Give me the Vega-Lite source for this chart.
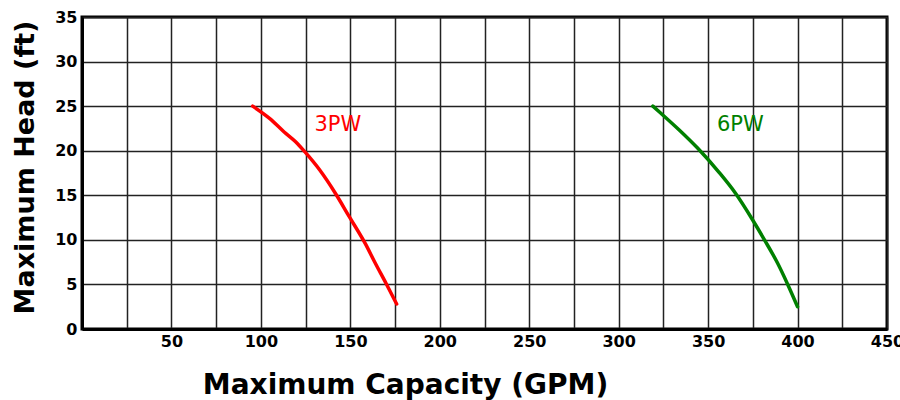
{
  "$schema": "https://vega.github.io/schema/vega-lite/v6.json",
  "autosize": "none",
  "padding": {"left": 82, "top": 17, "right": 13, "bottom": 71},
  "width": 805,
  "height": 312,
  "background": "white",
  "config": {
    "view": {"stroke": "black", "strokeWidth": 3},
    "font": "DejaVu Sans"
  },
  "datasets": {
    "curves": [
      {"model": "3PW", "gpm": 95.4, "head": 25.0},
      {"model": "3PW", "gpm": 105, "head": 23.6},
      {"model": "3PW", "gpm": 113, "head": 22.1},
      {"model": "3PW", "gpm": 119.4, "head": 21.0},
      {"model": "3PW", "gpm": 124, "head": 20.0},
      {"model": "3PW", "gpm": 133, "head": 17.8},
      {"model": "3PW", "gpm": 141.7, "head": 15.2},
      {"model": "3PW", "gpm": 149.4, "head": 12.6},
      {"model": "3PW", "gpm": 158.3, "head": 9.6},
      {"model": "3PW", "gpm": 163.9, "head": 7.4},
      {"model": "3PW", "gpm": 170, "head": 5.1},
      {"model": "3PW", "gpm": 175.9, "head": 2.8},
      {"model": "6PW", "gpm": 319.1, "head": 25.0},
      {"model": "6PW", "gpm": 323.6, "head": 24.2},
      {"model": "6PW", "gpm": 334, "head": 22.3},
      {"model": "6PW", "gpm": 344.1, "head": 20.3},
      {"model": "6PW", "gpm": 356, "head": 17.6},
      {"model": "6PW", "gpm": 365.4, "head": 15.2},
      {"model": "6PW", "gpm": 375, "head": 12.2},
      {"model": "6PW", "gpm": 381.5, "head": 10.0},
      {"model": "6PW", "gpm": 388.8, "head": 7.4},
      {"model": "6PW", "gpm": 394.5, "head": 5.0},
      {"model": "6PW", "gpm": 400, "head": 2.5}
    ],
    "labels": [
      {"model": "3PW", "gpm": 143, "head": 22.9},
      {"model": "6PW", "gpm": 368, "head": 22.9}
    ]
  },
  "layer": [
    {
      "data": {"name": "curves"},
      "mark": {"type": "line", "strokeWidth": 3.5, "strokeCap": "round", "interpolate": "monotone"},
      "encoding": {
        "x": {
          "field": "gpm", "type": "quantitative",
          "scale": {"domain": [0, 450], "nice": false},
          "axis": {
            "values": [25, 50, 75, 100, 125, 150, 175, 200, 225, 250, 275, 300, 325, 350, 375, 400, 425, 450],
            "labelExpr": "datum.value % 50 == 0 ? datum.label : ''",
            "grid": true, "gridColor": "#222", "gridWidth": 1.5, "gridOpacity": 1,
            "ticks": false, "domain": true, "domainColor": "black", "domainWidth": 3,
            "labelFont": "DejaVu Sans", "labelFontWeight": "bold", "labelFontSize": 16, "labelColor": "black",
            "labelPadding": 4, "labelFlush": false, "labelOverlap": false,
            "title": "Maximum Capacity (GPM)",
            "titleFont": "DejaVu Sans", "titleFontWeight": "bold", "titleFontSize": 28, "titleColor": "black",
            "titleX": 323, "titleY": 64, "titleAlign": "center", "titleBaseline": "alphabetic", "titleAnchor": null
          }
        },
        "y": {
          "field": "head", "type": "quantitative",
          "scale": {"domain": [0, 35], "nice": false},
          "axis": {
            "values": [0, 5, 10, 15, 20, 25, 30, 35],
            "grid": true, "gridColor": "#222", "gridWidth": 1.5, "gridOpacity": 1,
            "ticks": false, "domain": true, "domainColor": "black", "domainWidth": 3,
            "labelFont": "DejaVu Sans", "labelFontWeight": "bold", "labelFontSize": 16, "labelColor": "black",
            "labelPadding": 5, "labelFlush": false, "labelOverlap": false,
            "title": "Maximum Head (ft)",
            "titleFont": "DejaVu Sans", "titleFontWeight": "bold", "titleFontSize": 27, "titleColor": "black",
            "titleX": -57, "titleY": 150, "titleAngle": -90, "titleAlign": "center", "titleBaseline": "middle"
          }
        },
        "color": {
          "field": "model", "type": "nominal",
          "scale": {"domain": ["3PW", "6PW"], "range": ["#ff0000", "#008000"]},
          "legend": null
        },
        "detail": {"field": "model"}
      }
    },
    {
      "data": {"name": "labels"},
      "mark": {"type": "text", "font": "DejaVu Sans", "fontSize": 21, "align": "center", "baseline": "middle"},
      "encoding": {
        "x": {"field": "gpm", "type": "quantitative"},
        "y": {"field": "head", "type": "quantitative"},
        "text": {"field": "model"},
        "color": {
          "field": "model", "type": "nominal",
          "scale": {"domain": ["3PW", "6PW"], "range": ["#ff0000", "#008000"]},
          "legend": null
        }
      }
    }
  ]
}
